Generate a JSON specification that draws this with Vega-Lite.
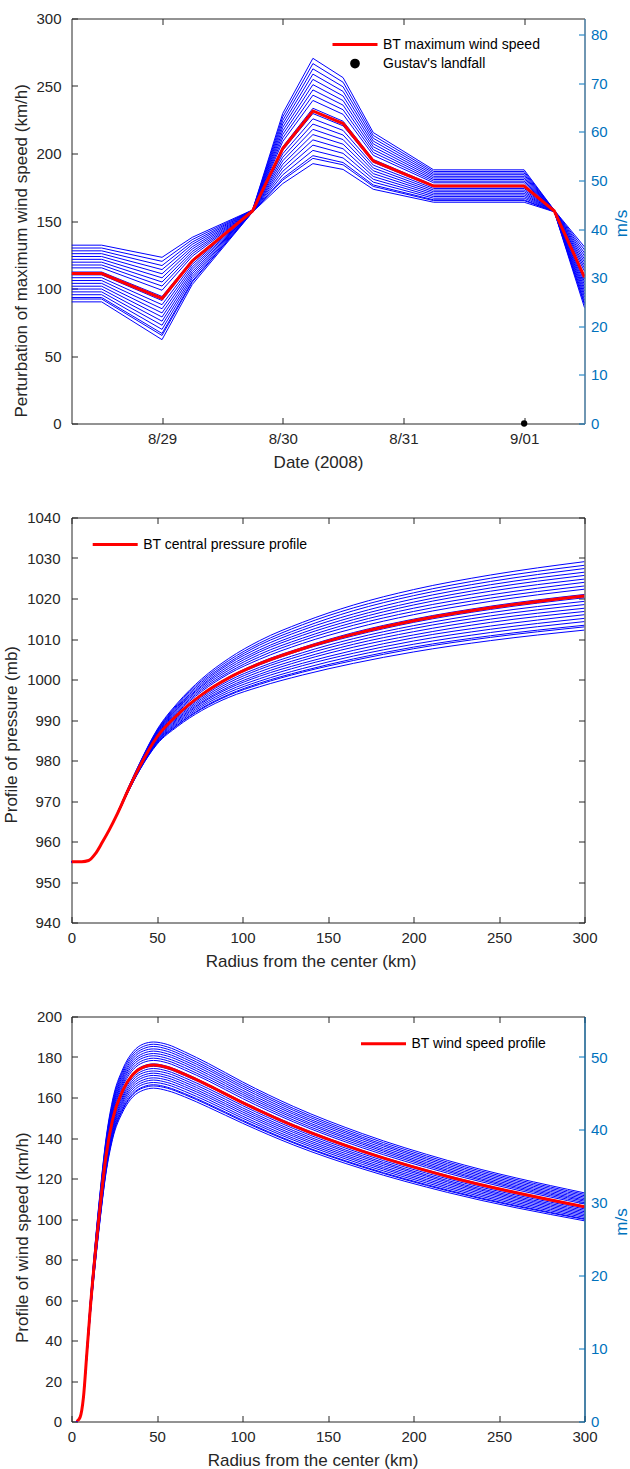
{
"$schema": "https://vega.github.io/schema/vega-lite/v6.json",
"background": "white",
"padding": {"left": 1.5, "top": 10.5, "right": 0, "bottom": 0},
"bounds": "flush",
"spacing": 94,
"resolve": {"scale": {"color": "independent"}, "legend": {"color": "independent"}},
"datasets": {
"ens1": [
{"m":1,"t":"2008-08-28T06:00","v":90.1},{"m":2,"t":"2008-08-28T06:00","v":92.2},{"m":3,"t":"2008-08-28T06:00","v":93.3},{"m":4,"t":"2008-08-28T06:00","v":95.4},{"m":5,"t":"2008-08-28T06:00","v":97.5},{"m":6,"t":"2008-08-28T06:00","v":99.6},{"m":7,"t":"2008-08-28T06:00","v":101.7},{"m":8,"t":"2008-08-28T06:00","v":103.8},{"m":9,"t":"2008-08-28T06:00","v":105.9},{"m":10,"t":"2008-08-28T06:00","v":108.0},{"m":11,"t":"2008-08-28T06:00","v":110.1},{"m":12,"t":"2008-08-28T06:00","v":112.2},{"m":13,"t":"2008-08-28T06:00","v":115.3},{"m":14,"t":"2008-08-28T06:00","v":117.4},{"m":15,"t":"2008-08-28T06:00","v":119.5},{"m":16,"t":"2008-08-28T06:00","v":121.6},{"m":17,"t":"2008-08-28T06:00","v":123.7},{"m":18,"t":"2008-08-28T06:00","v":125.8},{"m":19,"t":"2008-08-28T06:00","v":127.9},{"m":20,"t":"2008-08-28T06:00","v":130.0},{"m":21,"t":"2008-08-28T06:00","v":132.1},
{"m":1,"t":"2008-08-28T12:00","v":90.1},{"m":2,"t":"2008-08-28T12:00","v":92.2},{"m":3,"t":"2008-08-28T12:00","v":93.3},{"m":4,"t":"2008-08-28T12:00","v":95.4},{"m":5,"t":"2008-08-28T12:00","v":97.5},{"m":6,"t":"2008-08-28T12:00","v":99.6},{"m":7,"t":"2008-08-28T12:00","v":101.7},{"m":8,"t":"2008-08-28T12:00","v":103.8},{"m":9,"t":"2008-08-28T12:00","v":105.9},{"m":10,"t":"2008-08-28T12:00","v":108.0},{"m":11,"t":"2008-08-28T12:00","v":110.1},{"m":12,"t":"2008-08-28T12:00","v":112.2},{"m":13,"t":"2008-08-28T12:00","v":115.3},{"m":14,"t":"2008-08-28T12:00","v":117.4},{"m":15,"t":"2008-08-28T12:00","v":119.5},{"m":16,"t":"2008-08-28T12:00","v":121.6},{"m":17,"t":"2008-08-28T12:00","v":123.7},{"m":18,"t":"2008-08-28T12:00","v":125.8},{"m":19,"t":"2008-08-28T12:00","v":127.9},{"m":20,"t":"2008-08-28T12:00","v":130.0},{"m":21,"t":"2008-08-28T12:00","v":132.1},
{"m":1,"t":"2008-08-29T00:00","v":62.1},{"m":2,"t":"2008-08-29T00:00","v":65.2},{"m":3,"t":"2008-08-29T00:00","v":66.7},{"m":4,"t":"2008-08-29T00:00","v":69.7},{"m":5,"t":"2008-08-29T00:00","v":72.8},{"m":6,"t":"2008-08-29T00:00","v":75.8},{"m":7,"t":"2008-08-29T00:00","v":78.9},{"m":8,"t":"2008-08-29T00:00","v":81.9},{"m":9,"t":"2008-08-29T00:00","v":85.0},{"m":10,"t":"2008-08-29T00:00","v":88.0},{"m":11,"t":"2008-08-29T00:00","v":91.1},{"m":12,"t":"2008-08-29T00:00","v":94.1},{"m":13,"t":"2008-08-29T00:00","v":98.7},{"m":14,"t":"2008-08-29T00:00","v":101.8},{"m":15,"t":"2008-08-29T00:00","v":104.8},{"m":16,"t":"2008-08-29T00:00","v":107.9},{"m":17,"t":"2008-08-29T00:00","v":110.9},{"m":18,"t":"2008-08-29T00:00","v":114.0},{"m":19,"t":"2008-08-29T00:00","v":117.0},{"m":20,"t":"2008-08-29T00:00","v":120.1},{"m":21,"t":"2008-08-29T00:00","v":123.1},
{"m":1,"t":"2008-08-29T06:00","v":102.9},{"m":2,"t":"2008-08-29T06:00","v":104.7},{"m":3,"t":"2008-08-29T06:00","v":105.5},{"m":4,"t":"2008-08-29T06:00","v":107.3},{"m":5,"t":"2008-08-29T06:00","v":109.0},{"m":6,"t":"2008-08-29T06:00","v":110.8},{"m":7,"t":"2008-08-29T06:00","v":112.5},{"m":8,"t":"2008-08-29T06:00","v":114.3},{"m":9,"t":"2008-08-29T06:00","v":116.0},{"m":10,"t":"2008-08-29T06:00","v":117.8},{"m":11,"t":"2008-08-29T06:00","v":119.5},{"m":12,"t":"2008-08-29T06:00","v":121.3},{"m":13,"t":"2008-08-29T06:00","v":123.9},{"m":14,"t":"2008-08-29T06:00","v":125.7},{"m":15,"t":"2008-08-29T06:00","v":127.4},{"m":16,"t":"2008-08-29T06:00","v":129.2},{"m":17,"t":"2008-08-29T06:00","v":130.9},{"m":18,"t":"2008-08-29T06:00","v":132.7},{"m":19,"t":"2008-08-29T06:00","v":134.4},{"m":20,"t":"2008-08-29T06:00","v":136.2},{"m":21,"t":"2008-08-29T06:00","v":137.9},
{"m":1,"t":"2008-08-29T18:00","v":156.6},{"m":2,"t":"2008-08-29T18:00","v":156.7},{"m":3,"t":"2008-08-29T18:00","v":156.7},{"m":4,"t":"2008-08-29T18:00","v":156.8},{"m":5,"t":"2008-08-29T18:00","v":156.9},{"m":6,"t":"2008-08-29T18:00","v":157.0},{"m":7,"t":"2008-08-29T18:00","v":157.0},{"m":8,"t":"2008-08-29T18:00","v":157.1},{"m":9,"t":"2008-08-29T18:00","v":157.2},{"m":10,"t":"2008-08-29T18:00","v":157.3},{"m":11,"t":"2008-08-29T18:00","v":157.4},{"m":12,"t":"2008-08-29T18:00","v":157.4},{"m":13,"t":"2008-08-29T18:00","v":157.6},{"m":14,"t":"2008-08-29T18:00","v":157.6},{"m":15,"t":"2008-08-29T18:00","v":157.7},{"m":16,"t":"2008-08-29T18:00","v":157.8},{"m":17,"t":"2008-08-29T18:00","v":157.9},{"m":18,"t":"2008-08-29T18:00","v":158.0},{"m":19,"t":"2008-08-29T18:00","v":158.0},{"m":20,"t":"2008-08-29T18:00","v":158.1},{"m":21,"t":"2008-08-29T18:00","v":158.2},
{"m":1,"t":"2008-08-30T00:00","v":177.7},{"m":2,"t":"2008-08-30T00:00","v":180.3},{"m":3,"t":"2008-08-30T00:00","v":181.6},{"m":4,"t":"2008-08-30T00:00","v":184.2},{"m":5,"t":"2008-08-30T00:00","v":186.8},{"m":6,"t":"2008-08-30T00:00","v":189.4},{"m":7,"t":"2008-08-30T00:00","v":192.0},{"m":8,"t":"2008-08-30T00:00","v":194.6},{"m":9,"t":"2008-08-30T00:00","v":197.2},{"m":10,"t":"2008-08-30T00:00","v":199.8},{"m":11,"t":"2008-08-30T00:00","v":202.4},{"m":12,"t":"2008-08-30T00:00","v":205.0},{"m":13,"t":"2008-08-30T00:00","v":208.9},{"m":14,"t":"2008-08-30T00:00","v":211.5},{"m":15,"t":"2008-08-30T00:00","v":214.1},{"m":16,"t":"2008-08-30T00:00","v":216.7},{"m":17,"t":"2008-08-30T00:00","v":219.3},{"m":18,"t":"2008-08-30T00:00","v":221.9},{"m":19,"t":"2008-08-30T00:00","v":224.5},{"m":20,"t":"2008-08-30T00:00","v":227.1},{"m":21,"t":"2008-08-30T00:00","v":229.7},
{"m":1,"t":"2008-08-30T06:00","v":192.5},{"m":2,"t":"2008-08-30T06:00","v":196.4},{"m":3,"t":"2008-08-30T06:00","v":198.4},{"m":4,"t":"2008-08-30T06:00","v":202.3},{"m":5,"t":"2008-08-30T06:00","v":206.2},{"m":6,"t":"2008-08-30T06:00","v":210.1},{"m":7,"t":"2008-08-30T06:00","v":214.0},{"m":8,"t":"2008-08-30T06:00","v":217.9},{"m":9,"t":"2008-08-30T06:00","v":221.8},{"m":10,"t":"2008-08-30T06:00","v":225.7},{"m":11,"t":"2008-08-30T06:00","v":229.6},{"m":12,"t":"2008-08-30T06:00","v":233.5},{"m":13,"t":"2008-08-30T06:00","v":239.3},{"m":14,"t":"2008-08-30T06:00","v":243.2},{"m":15,"t":"2008-08-30T06:00","v":247.1},{"m":16,"t":"2008-08-30T06:00","v":251.0},{"m":17,"t":"2008-08-30T06:00","v":254.9},{"m":18,"t":"2008-08-30T06:00","v":258.8},{"m":19,"t":"2008-08-30T06:00","v":262.7},{"m":20,"t":"2008-08-30T06:00","v":266.6},{"m":21,"t":"2008-08-30T06:00","v":270.5},
{"m":1,"t":"2008-08-30T12:00","v":188.2},{"m":2,"t":"2008-08-30T12:00","v":191.6},{"m":3,"t":"2008-08-30T12:00","v":193.3},{"m":4,"t":"2008-08-30T12:00","v":196.7},{"m":5,"t":"2008-08-30T12:00","v":200.1},{"m":6,"t":"2008-08-30T12:00","v":203.5},{"m":7,"t":"2008-08-30T12:00","v":206.9},{"m":8,"t":"2008-08-30T12:00","v":210.3},{"m":9,"t":"2008-08-30T12:00","v":213.7},{"m":10,"t":"2008-08-30T12:00","v":217.1},{"m":11,"t":"2008-08-30T12:00","v":220.5},{"m":12,"t":"2008-08-30T12:00","v":223.9},{"m":13,"t":"2008-08-30T12:00","v":229.0},{"m":14,"t":"2008-08-30T12:00","v":232.4},{"m":15,"t":"2008-08-30T12:00","v":235.8},{"m":16,"t":"2008-08-30T12:00","v":239.2},{"m":17,"t":"2008-08-30T12:00","v":242.6},{"m":18,"t":"2008-08-30T12:00","v":246.0},{"m":19,"t":"2008-08-30T12:00","v":249.4},{"m":20,"t":"2008-08-30T12:00","v":252.8},{"m":21,"t":"2008-08-30T12:00","v":256.2},
{"m":1,"t":"2008-08-30T18:00","v":173.5},{"m":2,"t":"2008-08-30T18:00","v":175.6},{"m":3,"t":"2008-08-30T18:00","v":176.7},{"m":4,"t":"2008-08-30T18:00","v":178.8},{"m":5,"t":"2008-08-30T18:00","v":180.9},{"m":6,"t":"2008-08-30T18:00","v":183.0},{"m":7,"t":"2008-08-30T18:00","v":185.1},{"m":8,"t":"2008-08-30T18:00","v":187.2},{"m":9,"t":"2008-08-30T18:00","v":189.3},{"m":10,"t":"2008-08-30T18:00","v":191.4},{"m":11,"t":"2008-08-30T18:00","v":193.5},{"m":12,"t":"2008-08-30T18:00","v":195.6},{"m":13,"t":"2008-08-30T18:00","v":198.7},{"m":14,"t":"2008-08-30T18:00","v":200.8},{"m":15,"t":"2008-08-30T18:00","v":202.9},{"m":16,"t":"2008-08-30T18:00","v":205.0},{"m":17,"t":"2008-08-30T18:00","v":207.1},{"m":18,"t":"2008-08-30T18:00","v":209.2},{"m":19,"t":"2008-08-30T18:00","v":211.3},{"m":20,"t":"2008-08-30T18:00","v":213.4},{"m":21,"t":"2008-08-30T18:00","v":215.5},
{"m":1,"t":"2008-08-31T06:00","v":163.9},{"m":2,"t":"2008-08-31T06:00","v":165.1},{"m":3,"t":"2008-08-31T06:00","v":165.7},{"m":4,"t":"2008-08-31T06:00","v":166.9},{"m":5,"t":"2008-08-31T06:00","v":168.1},{"m":6,"t":"2008-08-31T06:00","v":169.3},{"m":7,"t":"2008-08-31T06:00","v":170.5},{"m":8,"t":"2008-08-31T06:00","v":171.7},{"m":9,"t":"2008-08-31T06:00","v":172.9},{"m":10,"t":"2008-08-31T06:00","v":174.1},{"m":11,"t":"2008-08-31T06:00","v":175.3},{"m":12,"t":"2008-08-31T06:00","v":176.5},{"m":13,"t":"2008-08-31T06:00","v":178.3},{"m":14,"t":"2008-08-31T06:00","v":179.5},{"m":15,"t":"2008-08-31T06:00","v":180.7},{"m":16,"t":"2008-08-31T06:00","v":181.9},{"m":17,"t":"2008-08-31T06:00","v":183.1},{"m":18,"t":"2008-08-31T06:00","v":184.3},{"m":19,"t":"2008-08-31T06:00","v":185.5},{"m":20,"t":"2008-08-31T06:00","v":186.7},{"m":21,"t":"2008-08-31T06:00","v":187.9},
{"m":1,"t":"2008-09-01T00:00","v":163.9},{"m":2,"t":"2008-09-01T00:00","v":165.1},{"m":3,"t":"2008-09-01T00:00","v":165.7},{"m":4,"t":"2008-09-01T00:00","v":166.9},{"m":5,"t":"2008-09-01T00:00","v":168.1},{"m":6,"t":"2008-09-01T00:00","v":169.3},{"m":7,"t":"2008-09-01T00:00","v":170.5},{"m":8,"t":"2008-09-01T00:00","v":171.7},{"m":9,"t":"2008-09-01T00:00","v":172.9},{"m":10,"t":"2008-09-01T00:00","v":174.1},{"m":11,"t":"2008-09-01T00:00","v":175.3},{"m":12,"t":"2008-09-01T00:00","v":176.5},{"m":13,"t":"2008-09-01T00:00","v":178.3},{"m":14,"t":"2008-09-01T00:00","v":179.5},{"m":15,"t":"2008-09-01T00:00","v":180.7},{"m":16,"t":"2008-09-01T00:00","v":181.9},{"m":17,"t":"2008-09-01T00:00","v":183.1},{"m":18,"t":"2008-09-01T00:00","v":184.3},{"m":19,"t":"2008-09-01T00:00","v":185.5},{"m":20,"t":"2008-09-01T00:00","v":186.7},{"m":21,"t":"2008-09-01T00:00","v":187.9},
{"m":1,"t":"2008-09-01T06:00","v":156.8},{"m":2,"t":"2008-09-01T06:00","v":156.9},{"m":3,"t":"2008-09-01T06:00","v":156.9},{"m":4,"t":"2008-09-01T06:00","v":157.0},{"m":5,"t":"2008-09-01T06:00","v":157.0},{"m":6,"t":"2008-09-01T06:00","v":157.1},{"m":7,"t":"2008-09-01T06:00","v":157.1},{"m":8,"t":"2008-09-01T06:00","v":157.2},{"m":9,"t":"2008-09-01T06:00","v":157.3},{"m":10,"t":"2008-09-01T06:00","v":157.3},{"m":11,"t":"2008-09-01T06:00","v":157.4},{"m":12,"t":"2008-09-01T06:00","v":157.4},{"m":13,"t":"2008-09-01T06:00","v":157.5},{"m":14,"t":"2008-09-01T06:00","v":157.6},{"m":15,"t":"2008-09-01T06:00","v":157.6},{"m":16,"t":"2008-09-01T06:00","v":157.7},{"m":17,"t":"2008-09-01T06:00","v":157.8},{"m":18,"t":"2008-09-01T06:00","v":157.8},{"m":19,"t":"2008-09-01T06:00","v":157.9},{"m":20,"t":"2008-09-01T06:00","v":157.9},{"m":21,"t":"2008-09-01T06:00","v":158.0},
{"m":1,"t":"2008-09-01T12:00","v":85.8},{"m":2,"t":"2008-09-01T12:00","v":88.1},{"m":3,"t":"2008-09-01T12:00","v":89.2},{"m":4,"t":"2008-09-01T12:00","v":91.4},{"m":5,"t":"2008-09-01T12:00","v":93.7},{"m":6,"t":"2008-09-01T12:00","v":95.9},{"m":7,"t":"2008-09-01T12:00","v":98.2},{"m":8,"t":"2008-09-01T12:00","v":100.4},{"m":9,"t":"2008-09-01T12:00","v":102.7},{"m":10,"t":"2008-09-01T12:00","v":104.9},{"m":11,"t":"2008-09-01T12:00","v":107.2},{"m":12,"t":"2008-09-01T12:00","v":109.4},{"m":13,"t":"2008-09-01T12:00","v":112.8},{"m":14,"t":"2008-09-01T12:00","v":115.1},{"m":15,"t":"2008-09-01T12:00","v":117.3},{"m":16,"t":"2008-09-01T12:00","v":119.6},{"m":17,"t":"2008-09-01T12:00","v":121.8},{"m":18,"t":"2008-09-01T12:00","v":124.1},{"m":19,"t":"2008-09-01T12:00","v":126.3},{"m":20,"t":"2008-09-01T12:00","v":128.6},{"m":21,"t":"2008-09-01T12:00","v":130.8}
],
"bt1": [
{"t":"2008-08-28T06:00","v":111.1,"s":"BT maximum wind speed"},{"t":"2008-08-28T12:00","v":111.1,"s":"BT maximum wind speed"},{"t":"2008-08-29T00:00","v":92.6,"s":"BT maximum wind speed"},{"t":"2008-08-29T06:00","v":120.4,"s":"BT maximum wind speed"},{"t":"2008-08-29T18:00","v":157.4,"s":"BT maximum wind speed"},{"t":"2008-08-30T00:00","v":203.7,"s":"BT maximum wind speed"},{"t":"2008-08-30T06:00","v":231.5,"s":"BT maximum wind speed"},{"t":"2008-08-30T12:00","v":222.2,"s":"BT maximum wind speed"},{"t":"2008-08-30T18:00","v":194.5,"s":"BT maximum wind speed"},{"t":"2008-08-31T06:00","v":175.9,"s":"BT maximum wind speed"},{"t":"2008-09-01T00:00","v":175.9,"s":"BT maximum wind speed"},{"t":"2008-09-01T06:00","v":157.4,"s":"BT maximum wind speed"},{"t":"2008-09-01T12:00","v":108.3,"s":"BT maximum wind speed"}
],
"lf": [
{"t":"2008-09-01T00:00","v":0,"s":"Gustav's landfall"}
],
"ens2": [
{"m":1,"r":0,"p":955},{"m":2,"r":0,"p":955},{"m":3,"r":0,"p":955},{"m":4,"r":0,"p":955},{"m":5,"r":0,"p":955},{"m":6,"r":0,"p":955},{"m":7,"r":0,"p":955},{"m":8,"r":0,"p":955},{"m":9,"r":0,"p":955},{"m":10,"r":0,"p":955},{"m":11,"r":0,"p":955},{"m":12,"r":0,"p":955},{"m":13,"r":0,"p":955},{"m":14,"r":0,"p":955},{"m":15,"r":0,"p":955},{"m":16,"r":0,"p":955},{"m":17,"r":0,"p":955},{"m":18,"r":0,"p":955},{"m":19,"r":0,"p":955},{"m":20,"r":0,"p":955},{"m":21,"r":0,"p":955},
{"m":1,"r":6,"p":955},{"m":2,"r":6,"p":955},{"m":3,"r":6,"p":955},{"m":4,"r":6,"p":955},{"m":5,"r":6,"p":955},{"m":6,"r":6,"p":955},{"m":7,"r":6,"p":955},{"m":8,"r":6,"p":955},{"m":9,"r":6,"p":955},{"m":10,"r":6,"p":955},{"m":11,"r":6,"p":955},{"m":12,"r":6,"p":955},{"m":13,"r":6,"p":955},{"m":14,"r":6,"p":955},{"m":15,"r":6,"p":955},{"m":16,"r":6,"p":955},{"m":17,"r":6,"p":955},{"m":18,"r":6,"p":955},{"m":19,"r":6,"p":955},{"m":20,"r":6,"p":955},{"m":21,"r":6,"p":955},
{"m":1,"r":10,"p":955.3},{"m":2,"r":10,"p":955.3},{"m":3,"r":10,"p":955.3},{"m":4,"r":10,"p":955.3},{"m":5,"r":10,"p":955.3},{"m":6,"r":10,"p":955.3},{"m":7,"r":10,"p":955.3},{"m":8,"r":10,"p":955.3},{"m":9,"r":10,"p":955.3},{"m":10,"r":10,"p":955.3},{"m":11,"r":10,"p":955.3},{"m":12,"r":10,"p":955.3},{"m":13,"r":10,"p":955.3},{"m":14,"r":10,"p":955.3},{"m":15,"r":10,"p":955.3},{"m":16,"r":10,"p":955.3},{"m":17,"r":10,"p":955.3},{"m":18,"r":10,"p":955.3},{"m":19,"r":10,"p":955.3},{"m":20,"r":10,"p":955.3},{"m":21,"r":10,"p":955.3},
{"m":1,"r":14,"p":957.0},{"m":2,"r":14,"p":957.0},{"m":3,"r":14,"p":957.0},{"m":4,"r":14,"p":957.0},{"m":5,"r":14,"p":957.0},{"m":6,"r":14,"p":957.0},{"m":7,"r":14,"p":957.0},{"m":8,"r":14,"p":957.0},{"m":9,"r":14,"p":957.0},{"m":10,"r":14,"p":957.0},{"m":11,"r":14,"p":957.0},{"m":12,"r":14,"p":957.0},{"m":13,"r":14,"p":957.0},{"m":14,"r":14,"p":957.0},{"m":15,"r":14,"p":957.0},{"m":16,"r":14,"p":957.0},{"m":17,"r":14,"p":957.0},{"m":18,"r":14,"p":957.0},{"m":19,"r":14,"p":957.0},{"m":20,"r":14,"p":957.0},{"m":21,"r":14,"p":957.0},
{"m":1,"r":18,"p":959.8},{"m":2,"r":18,"p":959.8},{"m":3,"r":18,"p":959.8},{"m":4,"r":18,"p":959.8},{"m":5,"r":18,"p":959.8},{"m":6,"r":18,"p":959.8},{"m":7,"r":18,"p":959.8},{"m":8,"r":18,"p":959.8},{"m":9,"r":18,"p":959.8},{"m":10,"r":18,"p":959.8},{"m":11,"r":18,"p":959.8},{"m":12,"r":18,"p":959.8},{"m":13,"r":18,"p":959.8},{"m":14,"r":18,"p":959.8},{"m":15,"r":18,"p":959.8},{"m":16,"r":18,"p":959.8},{"m":17,"r":18,"p":959.8},{"m":18,"r":18,"p":959.8},{"m":19,"r":18,"p":959.8},{"m":20,"r":18,"p":959.8},{"m":21,"r":18,"p":959.8},
{"m":1,"r":22,"p":962.7},{"m":2,"r":22,"p":962.7},{"m":3,"r":22,"p":962.7},{"m":4,"r":22,"p":962.7},{"m":5,"r":22,"p":962.7},{"m":6,"r":22,"p":962.7},{"m":7,"r":22,"p":962.8},{"m":8,"r":22,"p":962.8},{"m":9,"r":22,"p":962.8},{"m":10,"r":22,"p":962.8},{"m":11,"r":22,"p":962.8},{"m":12,"r":22,"p":962.8},{"m":13,"r":22,"p":962.8},{"m":14,"r":22,"p":962.8},{"m":15,"r":22,"p":962.9},{"m":16,"r":22,"p":962.9},{"m":17,"r":22,"p":962.9},{"m":18,"r":22,"p":962.9},{"m":19,"r":22,"p":962.9},{"m":20,"r":22,"p":962.9},{"m":21,"r":22,"p":962.9},
{"m":1,"r":27,"p":966.7},{"m":2,"r":27,"p":966.8},{"m":3,"r":27,"p":966.8},{"m":4,"r":27,"p":966.8},{"m":5,"r":27,"p":966.8},{"m":6,"r":27,"p":966.9},{"m":7,"r":27,"p":966.9},{"m":8,"r":27,"p":966.9},{"m":9,"r":27,"p":966.9},{"m":10,"r":27,"p":967.0},{"m":11,"r":27,"p":967.0},{"m":12,"r":27,"p":967.0},{"m":13,"r":27,"p":967.1},{"m":14,"r":27,"p":967.1},{"m":15,"r":27,"p":967.1},{"m":16,"r":27,"p":967.1},{"m":17,"r":27,"p":967.2},{"m":18,"r":27,"p":967.2},{"m":19,"r":27,"p":967.2},{"m":20,"r":27,"p":967.2},{"m":21,"r":27,"p":967.3},
{"m":1,"r":33,"p":972.1},{"m":2,"r":33,"p":972.2},{"m":3,"r":33,"p":972.2},{"m":4,"r":33,"p":972.2},{"m":5,"r":33,"p":972.3},{"m":6,"r":33,"p":972.3},{"m":7,"r":33,"p":972.4},{"m":8,"r":33,"p":972.4},{"m":9,"r":33,"p":972.5},{"m":10,"r":33,"p":972.5},{"m":11,"r":33,"p":972.6},{"m":12,"r":33,"p":972.6},{"m":13,"r":33,"p":972.7},{"m":14,"r":33,"p":972.8},{"m":15,"r":33,"p":972.8},{"m":16,"r":33,"p":972.9},{"m":17,"r":33,"p":972.9},{"m":18,"r":33,"p":973.0},{"m":19,"r":33,"p":973.0},{"m":20,"r":33,"p":973.1},{"m":21,"r":33,"p":973.1},
{"m":1,"r":40,"p":977.7},{"m":2,"r":40,"p":977.8},{"m":3,"r":40,"p":977.8},{"m":4,"r":40,"p":977.9},{"m":5,"r":40,"p":978.0},{"m":6,"r":40,"p":978.1},{"m":7,"r":40,"p":978.2},{"m":8,"r":40,"p":978.3},{"m":9,"r":40,"p":978.4},{"m":10,"r":40,"p":978.5},{"m":11,"r":40,"p":978.6},{"m":12,"r":40,"p":978.6},{"m":13,"r":40,"p":978.8},{"m":14,"r":40,"p":978.9},{"m":15,"r":40,"p":979.0},{"m":16,"r":40,"p":979.1},{"m":17,"r":40,"p":979.1},{"m":18,"r":40,"p":979.2},{"m":19,"r":40,"p":979.3},{"m":20,"r":40,"p":979.4},{"m":21,"r":40,"p":979.5},
{"m":1,"r":50,"p":984.0},{"m":2,"r":50,"p":984.2},{"m":3,"r":50,"p":984.3},{"m":4,"r":50,"p":984.5},{"m":5,"r":50,"p":984.6},{"m":6,"r":50,"p":984.8},{"m":7,"r":50,"p":985.0},{"m":8,"r":50,"p":985.2},{"m":9,"r":50,"p":985.4},{"m":10,"r":50,"p":985.5},{"m":11,"r":50,"p":985.7},{"m":12,"r":50,"p":985.9},{"m":13,"r":50,"p":986.2},{"m":14,"r":50,"p":986.3},{"m":15,"r":50,"p":986.5},{"m":16,"r":50,"p":986.7},{"m":17,"r":50,"p":986.9},{"m":18,"r":50,"p":987.1},{"m":19,"r":50,"p":987.2},{"m":20,"r":50,"p":987.4},{"m":21,"r":50,"p":987.6},
{"m":1,"r":62,"p":988.4},{"m":2,"r":62,"p":988.7},{"m":3,"r":62,"p":988.8},{"m":4,"r":62,"p":989.1},{"m":5,"r":62,"p":989.4},{"m":6,"r":62,"p":989.7},{"m":7,"r":62,"p":990.0},{"m":8,"r":62,"p":990.3},{"m":9,"r":62,"p":990.6},{"m":10,"r":62,"p":990.9},{"m":11,"r":62,"p":991.2},{"m":12,"r":62,"p":991.4},{"m":13,"r":62,"p":991.9},{"m":14,"r":62,"p":992.2},{"m":15,"r":62,"p":992.5},{"m":16,"r":62,"p":992.8},{"m":17,"r":62,"p":993.0},{"m":18,"r":62,"p":993.3},{"m":19,"r":62,"p":993.6},{"m":20,"r":62,"p":993.9},{"m":21,"r":62,"p":994.2},
{"m":1,"r":76,"p":992.3},{"m":2,"r":76,"p":992.7},{"m":3,"r":76,"p":992.9},{"m":4,"r":76,"p":993.3},{"m":5,"r":76,"p":993.7},{"m":6,"r":76,"p":994.1},{"m":7,"r":76,"p":994.4},{"m":8,"r":76,"p":994.8},{"m":9,"r":76,"p":995.2},{"m":10,"r":76,"p":995.6},{"m":11,"r":76,"p":996.0},{"m":12,"r":76,"p":996.4},{"m":13,"r":76,"p":997.0},{"m":14,"r":76,"p":997.4},{"m":15,"r":76,"p":997.8},{"m":16,"r":76,"p":998.2},{"m":17,"r":76,"p":998.5},{"m":18,"r":76,"p":998.9},{"m":19,"r":76,"p":999.3},{"m":20,"r":76,"p":999.7},{"m":21,"r":76,"p":1000.1},
{"m":1,"r":92,"p":995.6},{"m":2,"r":92,"p":996.1},{"m":3,"r":92,"p":996.3},{"m":4,"r":92,"p":996.8},{"m":5,"r":92,"p":997.3},{"m":6,"r":92,"p":997.8},{"m":7,"r":92,"p":998.2},{"m":8,"r":92,"p":998.7},{"m":9,"r":92,"p":999.2},{"m":10,"r":92,"p":999.7},{"m":11,"r":92,"p":1000.2},{"m":12,"r":92,"p":1000.6},{"m":13,"r":92,"p":1001.4},{"m":14,"r":92,"p":1001.8},{"m":15,"r":92,"p":1002.3},{"m":16,"r":92,"p":1002.8},{"m":17,"r":92,"p":1003.3},{"m":18,"r":92,"p":1003.8},{"m":19,"r":92,"p":1004.2},{"m":20,"r":92,"p":1004.7},{"m":21,"r":92,"p":1005.2},
{"m":1,"r":110,"p":998.2},{"m":2,"r":110,"p":998.8},{"m":3,"r":110,"p":999.1},{"m":4,"r":110,"p":999.6},{"m":5,"r":110,"p":1000.2},{"m":6,"r":110,"p":1000.8},{"m":7,"r":110,"p":1001.3},{"m":8,"r":110,"p":1001.9},{"m":9,"r":110,"p":1002.5},{"m":10,"r":110,"p":1003.0},{"m":11,"r":110,"p":1003.6},{"m":12,"r":110,"p":1004.2},{"m":13,"r":110,"p":1005.0},{"m":14,"r":110,"p":1005.6},{"m":15,"r":110,"p":1006.2},{"m":16,"r":110,"p":1006.8},{"m":17,"r":110,"p":1007.3},{"m":18,"r":110,"p":1007.9},{"m":19,"r":110,"p":1008.5},{"m":20,"r":110,"p":1009.0},{"m":21,"r":110,"p":1009.6},
{"m":1,"r":135,"p":1001.1},{"m":2,"r":135,"p":1001.8},{"m":3,"r":135,"p":1002.1},{"m":4,"r":135,"p":1002.7},{"m":5,"r":135,"p":1003.4},{"m":6,"r":135,"p":1004.0},{"m":7,"r":135,"p":1004.7},{"m":8,"r":135,"p":1005.3},{"m":9,"r":135,"p":1006.0},{"m":10,"r":135,"p":1006.6},{"m":11,"r":135,"p":1007.3},{"m":12,"r":135,"p":1007.9},{"m":13,"r":135,"p":1008.9},{"m":14,"r":135,"p":1009.6},{"m":15,"r":135,"p":1010.2},{"m":16,"r":135,"p":1010.9},{"m":17,"r":135,"p":1011.5},{"m":18,"r":135,"p":1012.2},{"m":19,"r":135,"p":1012.8},{"m":20,"r":135,"p":1013.5},{"m":21,"r":135,"p":1014.1},
{"m":1,"r":165,"p":1004.0},{"m":2,"r":165,"p":1004.7},{"m":3,"r":165,"p":1005.1},{"m":4,"r":165,"p":1005.8},{"m":5,"r":165,"p":1006.5},{"m":6,"r":165,"p":1007.2},{"m":7,"r":165,"p":1008.0},{"m":8,"r":165,"p":1008.7},{"m":9,"r":165,"p":1009.4},{"m":10,"r":165,"p":1010.1},{"m":11,"r":165,"p":1010.8},{"m":12,"r":165,"p":1011.6},{"m":13,"r":165,"p":1012.6},{"m":14,"r":165,"p":1013.4},{"m":15,"r":165,"p":1014.1},{"m":16,"r":165,"p":1014.8},{"m":17,"r":165,"p":1015.5},{"m":18,"r":165,"p":1016.2},{"m":19,"r":165,"p":1017.0},{"m":20,"r":165,"p":1017.7},{"m":21,"r":165,"p":1018.4},
{"m":1,"r":200,"p":1006.8},{"m":2,"r":200,"p":1007.6},{"m":3,"r":200,"p":1008.0},{"m":4,"r":200,"p":1008.7},{"m":5,"r":200,"p":1009.5},{"m":6,"r":200,"p":1010.3},{"m":7,"r":200,"p":1011.0},{"m":8,"r":200,"p":1011.8},{"m":9,"r":200,"p":1012.6},{"m":10,"r":200,"p":1013.3},{"m":11,"r":200,"p":1014.1},{"m":12,"r":200,"p":1014.9},{"m":13,"r":200,"p":1016.0},{"m":14,"r":200,"p":1016.8},{"m":15,"r":200,"p":1017.6},{"m":16,"r":200,"p":1018.4},{"m":17,"r":200,"p":1019.1},{"m":18,"r":200,"p":1019.9},{"m":19,"r":200,"p":1020.7},{"m":20,"r":200,"p":1021.4},{"m":21,"r":200,"p":1022.2},
{"m":1,"r":245,"p":1009.6},{"m":2,"r":245,"p":1010.4},{"m":3,"r":245,"p":1010.8},{"m":4,"r":245,"p":1011.6},{"m":5,"r":245,"p":1012.4},{"m":6,"r":245,"p":1013.2},{"m":7,"r":245,"p":1014.1},{"m":8,"r":245,"p":1014.9},{"m":9,"r":245,"p":1015.7},{"m":10,"r":245,"p":1016.5},{"m":11,"r":245,"p":1017.3},{"m":12,"r":245,"p":1018.1},{"m":13,"r":245,"p":1019.3},{"m":14,"r":245,"p":1020.1},{"m":15,"r":245,"p":1020.9},{"m":16,"r":245,"p":1021.8},{"m":17,"r":245,"p":1022.6},{"m":18,"r":245,"p":1023.4},{"m":19,"r":245,"p":1024.2},{"m":20,"r":245,"p":1025.0},{"m":21,"r":245,"p":1025.8},
{"m":1,"r":300,"p":1012.2},{"m":2,"r":300,"p":1013.0},{"m":3,"r":300,"p":1013.4},{"m":4,"r":300,"p":1014.3},{"m":5,"r":300,"p":1015.1},{"m":6,"r":300,"p":1016.0},{"m":7,"r":300,"p":1016.8},{"m":8,"r":300,"p":1017.6},{"m":9,"r":300,"p":1018.5},{"m":10,"r":300,"p":1019.3},{"m":11,"r":300,"p":1020.2},{"m":12,"r":300,"p":1021.0},{"m":13,"r":300,"p":1022.3},{"m":14,"r":300,"p":1023.1},{"m":15,"r":300,"p":1024.0},{"m":16,"r":300,"p":1024.8},{"m":17,"r":300,"p":1025.7},{"m":18,"r":300,"p":1026.5},{"m":19,"r":300,"p":1027.4},{"m":20,"r":300,"p":1028.2},{"m":21,"r":300,"p":1029.1}
],
"bt2": [
{"r":0,"p":955,"s":"BT central pressure profile"},{"r":6,"p":955,"s":"BT central pressure profile"},{"r":10,"p":955.3,"s":"BT central pressure profile"},{"r":14,"p":957,"s":"BT central pressure profile"},{"r":18,"p":959.8,"s":"BT central pressure profile"},{"r":22,"p":962.8,"s":"BT central pressure profile"},{"r":27,"p":967,"s":"BT central pressure profile"},{"r":33,"p":972.6,"s":"BT central pressure profile"},{"r":40,"p":978.6,"s":"BT central pressure profile"},{"r":50,"p":985.8,"s":"BT central pressure profile"},{"r":62,"p":991.3,"s":"BT central pressure profile"},{"r":76,"p":996.2,"s":"BT central pressure profile"},{"r":92,"p":1000.4,"s":"BT central pressure profile"},{"r":110,"p":1003.9,"s":"BT central pressure profile"},{"r":135,"p":1007.6,"s":"BT central pressure profile"},{"r":165,"p":1011.2,"s":"BT central pressure profile"},{"r":200,"p":1014.5,"s":"BT central pressure profile"},{"r":245,"p":1017.7,"s":"BT central pressure profile"},{"r":300,"p":1020.6,"s":"BT central pressure profile"}
],
"ens3": [
{"m":1,"r":3,"w":0},{"m":2,"r":3,"w":0},{"m":3,"r":3,"w":0},{"m":4,"r":3,"w":0},{"m":5,"r":3,"w":0},{"m":6,"r":3,"w":0},{"m":7,"r":3,"w":0},{"m":8,"r":3,"w":0},{"m":9,"r":3,"w":0},{"m":10,"r":3,"w":0},{"m":11,"r":3,"w":0},{"m":12,"r":3,"w":0},{"m":13,"r":3,"w":0},{"m":14,"r":3,"w":0},{"m":15,"r":3,"w":0},{"m":16,"r":3,"w":0},{"m":17,"r":3,"w":0},{"m":18,"r":3,"w":0},{"m":19,"r":3,"w":0},{"m":20,"r":3,"w":0},{"m":21,"r":3,"w":0},
{"m":1,"r":5,"w":2},{"m":2,"r":5,"w":2},{"m":3,"r":5,"w":2},{"m":4,"r":5,"w":2},{"m":5,"r":5,"w":2},{"m":6,"r":5,"w":2},{"m":7,"r":5,"w":2},{"m":8,"r":5,"w":2},{"m":9,"r":5,"w":2},{"m":10,"r":5,"w":2},{"m":11,"r":5,"w":2},{"m":12,"r":5,"w":2},{"m":13,"r":5,"w":2},{"m":14,"r":5,"w":2},{"m":15,"r":5,"w":2},{"m":16,"r":5,"w":2},{"m":17,"r":5,"w":2},{"m":18,"r":5,"w":2},{"m":19,"r":5,"w":2},{"m":20,"r":5,"w":2},{"m":21,"r":5,"w":2},
{"m":1,"r":7,"w":11.2},{"m":2,"r":7,"w":11.3},{"m":3,"r":7,"w":11.3},{"m":4,"r":7,"w":11.4},{"m":5,"r":7,"w":11.5},{"m":6,"r":7,"w":11.6},{"m":7,"r":7,"w":11.6},{"m":8,"r":7,"w":11.7},{"m":9,"r":7,"w":11.8},{"m":10,"r":7,"w":11.9},{"m":11,"r":7,"w":12.0},{"m":12,"r":7,"w":12.0},{"m":13,"r":7,"w":12.2},{"m":14,"r":7,"w":12.2},{"m":15,"r":7,"w":12.3},{"m":16,"r":7,"w":12.4},{"m":17,"r":7,"w":12.5},{"m":18,"r":7,"w":12.5},{"m":19,"r":7,"w":12.6},{"m":20,"r":7,"w":12.7},{"m":21,"r":7,"w":12.8},
{"m":1,"r":9,"w":31.8},{"m":2,"r":9,"w":32.0},{"m":3,"r":9,"w":32.1},{"m":4,"r":9,"w":32.3},{"m":5,"r":9,"w":32.6},{"m":6,"r":9,"w":32.8},{"m":7,"r":9,"w":33.0},{"m":8,"r":9,"w":33.2},{"m":9,"r":9,"w":33.4},{"m":10,"r":9,"w":33.7},{"m":11,"r":9,"w":33.9},{"m":12,"r":9,"w":34.1},{"m":13,"r":9,"w":34.4},{"m":14,"r":9,"w":34.7},{"m":15,"r":9,"w":34.9},{"m":16,"r":9,"w":35.1},{"m":17,"r":9,"w":35.3},{"m":18,"r":9,"w":35.5},{"m":19,"r":9,"w":35.8},{"m":20,"r":9,"w":36.0},{"m":21,"r":9,"w":36.2},
{"m":1,"r":11,"w":52.4},{"m":2,"r":11,"w":52.7},{"m":3,"r":11,"w":52.9},{"m":4,"r":11,"w":53.3},{"m":5,"r":11,"w":53.6},{"m":6,"r":11,"w":54.0},{"m":7,"r":11,"w":54.4},{"m":8,"r":11,"w":54.7},{"m":9,"r":11,"w":55.1},{"m":10,"r":11,"w":55.5},{"m":11,"r":11,"w":55.8},{"m":12,"r":11,"w":56.2},{"m":13,"r":11,"w":56.7},{"m":14,"r":11,"w":57.1},{"m":15,"r":11,"w":57.5},{"m":16,"r":11,"w":57.8},{"m":17,"r":11,"w":58.2},{"m":18,"r":11,"w":58.5},{"m":19,"r":11,"w":58.9},{"m":20,"r":11,"w":59.3},{"m":21,"r":11,"w":59.6},
{"m":1,"r":14,"w":78.5},{"m":2,"r":14,"w":79.1},{"m":3,"r":14,"w":79.4},{"m":4,"r":14,"w":79.9},{"m":5,"r":14,"w":80.5},{"m":6,"r":14,"w":81.0},{"m":7,"r":14,"w":81.5},{"m":8,"r":14,"w":82.1},{"m":9,"r":14,"w":82.6},{"m":10,"r":14,"w":83.2},{"m":11,"r":14,"w":83.7},{"m":12,"r":14,"w":84.3},{"m":13,"r":14,"w":85.1},{"m":14,"r":14,"w":85.6},{"m":15,"r":14,"w":86.2},{"m":16,"r":14,"w":86.7},{"m":17,"r":14,"w":87.3},{"m":18,"r":14,"w":87.8},{"m":19,"r":14,"w":88.4},{"m":20,"r":14,"w":88.9},{"m":21,"r":14,"w":89.5},
{"m":1,"r":17,"w":101.5},{"m":2,"r":17,"w":102.2},{"m":3,"r":17,"w":102.5},{"m":4,"r":17,"w":103.2},{"m":5,"r":17,"w":103.9},{"m":6,"r":17,"w":104.6},{"m":7,"r":17,"w":105.3},{"m":8,"r":17,"w":106.0},{"m":9,"r":17,"w":106.7},{"m":10,"r":17,"w":107.4},{"m":11,"r":17,"w":108.2},{"m":12,"r":17,"w":108.9},{"m":13,"r":17,"w":109.9},{"m":14,"r":17,"w":110.6},{"m":15,"r":17,"w":111.3},{"m":16,"r":17,"w":112.0},{"m":17,"r":17,"w":112.7},{"m":18,"r":17,"w":113.4},{"m":19,"r":17,"w":114.1},{"m":20,"r":17,"w":114.9},{"m":21,"r":17,"w":115.6},
{"m":1,"r":20,"w":121.6},{"m":2,"r":20,"w":122.4},{"m":3,"r":20,"w":122.8},{"m":4,"r":20,"w":123.7},{"m":5,"r":20,"w":124.5},{"m":6,"r":20,"w":125.4},{"m":7,"r":20,"w":126.2},{"m":8,"r":20,"w":127.0},{"m":9,"r":20,"w":127.9},{"m":10,"r":20,"w":128.7},{"m":11,"r":20,"w":129.6},{"m":12,"r":20,"w":130.4},{"m":13,"r":20,"w":131.7},{"m":14,"r":20,"w":132.5},{"m":15,"r":20,"w":133.4},{"m":16,"r":20,"w":134.2},{"m":17,"r":20,"w":135.1},{"m":18,"r":20,"w":135.9},{"m":19,"r":20,"w":136.8},{"m":20,"r":20,"w":137.6},{"m":21,"r":20,"w":138.5},
{"m":1,"r":24,"w":139.3},{"m":2,"r":24,"w":140.3},{"m":3,"r":24,"w":140.8},{"m":4,"r":24,"w":141.7},{"m":5,"r":24,"w":142.7},{"m":6,"r":24,"w":143.7},{"m":7,"r":24,"w":144.6},{"m":8,"r":24,"w":145.6},{"m":9,"r":24,"w":146.6},{"m":10,"r":24,"w":147.5},{"m":11,"r":24,"w":148.5},{"m":12,"r":24,"w":149.5},{"m":13,"r":24,"w":150.9},{"m":14,"r":24,"w":151.9},{"m":15,"r":24,"w":152.9},{"m":16,"r":24,"w":153.8},{"m":17,"r":24,"w":154.8},{"m":18,"r":24,"w":155.8},{"m":19,"r":24,"w":156.7},{"m":20,"r":24,"w":157.7},{"m":21,"r":24,"w":158.7},
{"m":1,"r":30,"w":152.9},{"m":2,"r":30,"w":153.9},{"m":3,"r":30,"w":154.5},{"m":4,"r":30,"w":155.5},{"m":5,"r":30,"w":156.6},{"m":6,"r":30,"w":157.7},{"m":7,"r":30,"w":158.7},{"m":8,"r":30,"w":159.8},{"m":9,"r":30,"w":160.8},{"m":10,"r":30,"w":161.9},{"m":11,"r":30,"w":163.0},{"m":12,"r":30,"w":164.0},{"m":13,"r":30,"w":165.6},{"m":14,"r":30,"w":166.7},{"m":15,"r":30,"w":167.8},{"m":16,"r":30,"w":168.8},{"m":17,"r":30,"w":169.9},{"m":18,"r":30,"w":170.9},{"m":19,"r":30,"w":172.0},{"m":20,"r":30,"w":173.1},{"m":21,"r":30,"w":174.1},
{"m":1,"r":36,"w":160.4},{"m":2,"r":36,"w":161.5},{"m":3,"r":36,"w":162.0},{"m":4,"r":36,"w":163.1},{"m":5,"r":36,"w":164.3},{"m":6,"r":36,"w":165.4},{"m":7,"r":36,"w":166.5},{"m":8,"r":36,"w":167.6},{"m":9,"r":36,"w":168.7},{"m":10,"r":36,"w":169.8},{"m":11,"r":36,"w":170.9},{"m":12,"r":36,"w":172.1},{"m":13,"r":36,"w":173.7},{"m":14,"r":36,"w":174.8},{"m":15,"r":36,"w":176.0},{"m":16,"r":36,"w":177.1},{"m":17,"r":36,"w":178.2},{"m":18,"r":36,"w":179.3},{"m":19,"r":36,"w":180.4},{"m":20,"r":36,"w":181.5},{"m":21,"r":36,"w":182.6},
{"m":1,"r":42,"w":163.6},{"m":2,"r":42,"w":164.8},{"m":3,"r":42,"w":165.3},{"m":4,"r":42,"w":166.5},{"m":5,"r":42,"w":167.6},{"m":6,"r":42,"w":168.7},{"m":7,"r":42,"w":169.9},{"m":8,"r":42,"w":171.0},{"m":9,"r":42,"w":172.2},{"m":10,"r":42,"w":173.3},{"m":11,"r":42,"w":174.4},{"m":12,"r":42,"w":175.6},{"m":13,"r":42,"w":177.3},{"m":14,"r":42,"w":178.4},{"m":15,"r":42,"w":179.6},{"m":16,"r":42,"w":180.7},{"m":17,"r":42,"w":181.8},{"m":18,"r":42,"w":183.0},{"m":19,"r":42,"w":184.1},{"m":20,"r":42,"w":185.2},{"m":21,"r":42,"w":186.4},
{"m":1,"r":48,"w":164.6},{"m":2,"r":48,"w":165.7},{"m":3,"r":48,"w":166.3},{"m":4,"r":48,"w":167.4},{"m":5,"r":48,"w":168.6},{"m":6,"r":48,"w":169.7},{"m":7,"r":48,"w":170.9},{"m":8,"r":48,"w":172.0},{"m":9,"r":48,"w":173.1},{"m":10,"r":48,"w":174.3},{"m":11,"r":48,"w":175.4},{"m":12,"r":48,"w":176.6},{"m":13,"r":48,"w":178.3},{"m":14,"r":48,"w":179.4},{"m":15,"r":48,"w":180.6},{"m":16,"r":48,"w":181.7},{"m":17,"r":48,"w":182.9},{"m":18,"r":48,"w":184.0},{"m":19,"r":48,"w":185.2},{"m":20,"r":48,"w":186.3},{"m":21,"r":48,"w":187.4},
{"m":1,"r":56,"w":163.4},{"m":2,"r":56,"w":164.6},{"m":3,"r":56,"w":165.1},{"m":4,"r":56,"w":166.3},{"m":5,"r":56,"w":167.4},{"m":6,"r":56,"w":168.6},{"m":7,"r":56,"w":169.7},{"m":8,"r":56,"w":170.8},{"m":9,"r":56,"w":172.0},{"m":10,"r":56,"w":173.1},{"m":11,"r":56,"w":174.2},{"m":12,"r":56,"w":175.4},{"m":13,"r":56,"w":177.1},{"m":14,"r":56,"w":178.2},{"m":15,"r":56,"w":179.3},{"m":16,"r":56,"w":180.5},{"m":17,"r":56,"w":181.6},{"m":18,"r":56,"w":182.8},{"m":19,"r":56,"w":183.9},{"m":20,"r":56,"w":185.0},{"m":21,"r":56,"w":186.2},
{"m":1,"r":66,"w":160.4},{"m":2,"r":66,"w":161.5},{"m":3,"r":66,"w":162.0},{"m":4,"r":66,"w":163.1},{"m":5,"r":66,"w":164.3},{"m":6,"r":66,"w":165.4},{"m":7,"r":66,"w":166.5},{"m":8,"r":66,"w":167.6},{"m":9,"r":66,"w":168.7},{"m":10,"r":66,"w":169.8},{"m":11,"r":66,"w":170.9},{"m":12,"r":66,"w":172.1},{"m":13,"r":66,"w":173.7},{"m":14,"r":66,"w":174.8},{"m":15,"r":66,"w":176.0},{"m":16,"r":66,"w":177.1},{"m":17,"r":66,"w":178.2},{"m":18,"r":66,"w":179.3},{"m":19,"r":66,"w":180.4},{"m":20,"r":66,"w":181.5},{"m":21,"r":66,"w":182.6},
{"m":1,"r":80,"w":155.2},{"m":2,"r":80,"w":156.3},{"m":3,"r":80,"w":156.8},{"m":4,"r":80,"w":157.9},{"m":5,"r":80,"w":159.0},{"m":6,"r":80,"w":160.1},{"m":7,"r":80,"w":161.1},{"m":8,"r":80,"w":162.2},{"m":9,"r":80,"w":163.3},{"m":10,"r":80,"w":164.4},{"m":11,"r":80,"w":165.5},{"m":12,"r":80,"w":166.5},{"m":13,"r":80,"w":168.2},{"m":14,"r":80,"w":169.2},{"m":15,"r":80,"w":170.3},{"m":16,"r":80,"w":171.4},{"m":17,"r":80,"w":172.5},{"m":18,"r":80,"w":173.6},{"m":19,"r":80,"w":174.6},{"m":20,"r":80,"w":175.7},{"m":21,"r":80,"w":176.8},
{"m":1,"r":100,"w":147.3},{"m":2,"r":100,"w":148.3},{"m":3,"r":100,"w":148.8},{"m":4,"r":100,"w":149.8},{"m":5,"r":100,"w":150.8},{"m":6,"r":100,"w":151.9},{"m":7,"r":100,"w":152.9},{"m":8,"r":100,"w":153.9},{"m":9,"r":100,"w":154.9},{"m":10,"r":100,"w":156.0},{"m":11,"r":100,"w":157.0},{"m":12,"r":100,"w":158.0},{"m":13,"r":100,"w":159.5},{"m":14,"r":100,"w":160.6},{"m":15,"r":100,"w":161.6},{"m":16,"r":100,"w":162.6},{"m":17,"r":100,"w":163.6},{"m":18,"r":100,"w":164.7},{"m":19,"r":100,"w":165.7},{"m":20,"r":100,"w":166.7},{"m":21,"r":100,"w":167.7},
{"m":1,"r":130,"w":136.5},{"m":2,"r":130,"w":137.5},{"m":3,"r":130,"w":137.9},{"m":4,"r":130,"w":138.9},{"m":5,"r":130,"w":139.8},{"m":6,"r":130,"w":140.8},{"m":7,"r":130,"w":141.7},{"m":8,"r":130,"w":142.7},{"m":9,"r":130,"w":143.6},{"m":10,"r":130,"w":144.6},{"m":11,"r":130,"w":145.5},{"m":12,"r":130,"w":146.5},{"m":13,"r":130,"w":147.9},{"m":14,"r":130,"w":148.8},{"m":15,"r":130,"w":149.8},{"m":16,"r":130,"w":150.7},{"m":17,"r":130,"w":151.7},{"m":18,"r":130,"w":152.6},{"m":19,"r":130,"w":153.6},{"m":20,"r":130,"w":154.5},{"m":21,"r":130,"w":155.5},
{"m":1,"r":170,"w":124.8},{"m":2,"r":170,"w":125.7},{"m":3,"r":170,"w":126.1},{"m":4,"r":170,"w":127.0},{"m":5,"r":170,"w":127.9},{"m":6,"r":170,"w":128.7},{"m":7,"r":170,"w":129.6},{"m":8,"r":170,"w":130.5},{"m":9,"r":170,"w":131.3},{"m":10,"r":170,"w":132.2},{"m":11,"r":170,"w":133.1},{"m":12,"r":170,"w":133.9},{"m":13,"r":170,"w":135.2},{"m":14,"r":170,"w":136.1},{"m":15,"r":170,"w":137.0},{"m":16,"r":170,"w":137.8},{"m":17,"r":170,"w":138.7},{"m":18,"r":170,"w":139.6},{"m":19,"r":170,"w":140.4},{"m":20,"r":170,"w":141.3},{"m":21,"r":170,"w":142.2},
{"m":1,"r":220,"w":113.1},{"m":2,"r":220,"w":113.9},{"m":3,"r":220,"w":114.3},{"m":4,"r":220,"w":115.1},{"m":5,"r":220,"w":115.9},{"m":6,"r":220,"w":116.7},{"m":7,"r":220,"w":117.5},{"m":8,"r":220,"w":118.3},{"m":9,"r":220,"w":119.0},{"m":10,"r":220,"w":119.8},{"m":11,"r":220,"w":120.6},{"m":12,"r":220,"w":121.4},{"m":13,"r":220,"w":122.6},{"m":14,"r":220,"w":123.4},{"m":15,"r":220,"w":124.1},{"m":16,"r":220,"w":124.9},{"m":17,"r":220,"w":125.7},{"m":18,"r":220,"w":126.5},{"m":19,"r":220,"w":127.3},{"m":20,"r":220,"w":128.1},{"m":21,"r":220,"w":128.9},
{"m":1,"r":300,"w":99.1},{"m":2,"r":300,"w":99.8},{"m":3,"r":300,"w":100.1},{"m":4,"r":300,"w":100.8},{"m":5,"r":300,"w":101.5},{"m":6,"r":300,"w":102.2},{"m":7,"r":300,"w":102.9},{"m":8,"r":300,"w":103.6},{"m":9,"r":300,"w":104.3},{"m":10,"r":300,"w":105.0},{"m":11,"r":300,"w":105.7},{"m":12,"r":300,"w":106.3},{"m":13,"r":300,"w":107.4},{"m":14,"r":300,"w":108.1},{"m":15,"r":300,"w":108.8},{"m":16,"r":300,"w":109.4},{"m":17,"r":300,"w":110.1},{"m":18,"r":300,"w":110.8},{"m":19,"r":300,"w":111.5},{"m":20,"r":300,"w":112.2},{"m":21,"r":300,"w":112.9}
],
"bt3": [
{"r":3,"w":0,"s":"BT wind speed profile"},{"r":5,"w":2,"s":"BT wind speed profile"},{"r":7,"w":12,"s":"BT wind speed profile"},{"r":9,"w":34,"s":"BT wind speed profile"},{"r":11,"w":56,"s":"BT wind speed profile"},{"r":14,"w":84,"s":"BT wind speed profile"},{"r":17,"w":108.5,"s":"BT wind speed profile"},{"r":20,"w":130,"s":"BT wind speed profile"},{"r":24,"w":149,"s":"BT wind speed profile"},{"r":30,"w":163.5,"s":"BT wind speed profile"},{"r":36,"w":171.5,"s":"BT wind speed profile"},{"r":42,"w":175,"s":"BT wind speed profile"},{"r":48,"w":176,"s":"BT wind speed profile"},{"r":56,"w":174.8,"s":"BT wind speed profile"},{"r":66,"w":171.5,"s":"BT wind speed profile"},{"r":80,"w":166,"s":"BT wind speed profile"},{"r":100,"w":157.5,"s":"BT wind speed profile"},{"r":130,"w":146,"s":"BT wind speed profile"},{"r":170,"w":133.5,"s":"BT wind speed profile"},{"r":220,"w":121,"s":"BT wind speed profile"},{"r":300,"w":106,"s":"BT wind speed profile"}
]
},
"vconcat": [
{
"width": 513, "height": 405,
"layer": [
{"data": {"name": "ens1"},
 "mark": {"type": "line", "color": "#0000FF", "strokeWidth": 1, "clip": true},
 "encoding": {
  "x": {"field": "t", "type": "temporal",
   "scale": {"domain": [{"year": 2008, "month": 8, "date": 28, "hours": 6}, {"year": 2008, "month": 9, "date": 1, "hours": 12}], "nice": false},
   "axis": {"orient": "bottom", "values": [{"year": 2008, "month": 8, "date": 29}, {"year": 2008, "month": 8, "date": 30}, {"year": 2008, "month": 8, "date": 31}, {"year": 2008, "month": 9, "date": 1}], "format": "%-m/%d", "title": "Date (2008)", "labelPadding": 14, "titleY": 38.5, "titleX": 246.5, "titleBaseline": "middle"}},
  "y": {"field": "v", "type": "quantitative",
   "scale": {"domain": [0, 300], "nice": false, "zero": false},
   "axis": {"orient": "left", "values": [0, 50, 100, 150, 200, 250, 300], "title": "Perturbation of maximum wind speed (km/h)", "labelPadding": 16.5, "titleX": -50.5, "titleY": 231.8, "titleBaseline": "middle"}},
  "detail": {"field": "m", "type": "nominal"}
 }},
{"data": {"name": "bt1"},
 "mark": {"type": "line", "strokeWidth": 3, "clip": true},
 "encoding": {
  "x": {"field": "t", "type": "temporal",
   "scale": {"domain": [{"year": 2008, "month": 8, "date": 28, "hours": 6}, {"year": 2008, "month": 9, "date": 1, "hours": 12}], "nice": false},
   "axis": {"orient": "top", "labels": false, "title": null, "values": [{"year": 2008, "month": 8, "date": 29}, {"year": 2008, "month": 8, "date": 30}, {"year": 2008, "month": 8, "date": 31}, {"year": 2008, "month": 9, "date": 1}]}},
  "y": {"field": "v", "type": "quantitative",
   "scale": {"domain": [0, 300], "nice": false, "zero": false},
   "axis": {"orient": "right", "values": [0, 36, 72, 108, 144, 180, 216, 252, 288], "labelExpr": "format(datum.value/3.6, 'd')", "title": "m/s", "titleAngle": 270, "titleX": 37, "titleY": 204.5, "titleBaseline": "middle", "labelColor": "#0072BD", "titleColor": "#0072BD", "tickColor": "#0072BD", "domain": true, "domainColor": "#4C9AD2", "labelPadding": 12}},
  "color": {"field": "s", "type": "nominal",
   "scale": {"domain": ["BT maximum wind speed", "Gustav's landfall"], "range": ["#FF0000", "#000000"]},
   "legend": {"title": null, "orient": "none", "legendX": 259.5, "legendY": 16.5, "symbolType": "stroke", "symbolSize": 2025, "symbolStrokeWidth": 3, "labelFontSize": 14, "labelColor": "#000000", "labelLimit": 400, "clipHeight": 19, "padding": 0, "rowPadding": 0, "labelOffset": 4,
    "encode": {"symbols": {"update": {
      "shape": {"signal": "indexof(datum.value,'Gustav')>=0 ? 'M0.15,0A0.15,0.15,0,1,1,-0.15,0A0.15,0.15,0,1,1,0.15,0Z' : 'stroke'"},
      "fill": {"signal": "indexof(datum.value,'Gustav')>=0 ? '#000000' : 'transparent'"},
      "stroke": {"signal": "indexof(datum.value,'Gustav')>=0 ? 'transparent' : '#FF0000'"},
      "strokeWidth": {"value": 3}}}}}}
 }},
{"data": {"name": "lf"},
 "mark": {"type": "point", "filled": true, "size": 40, "opacity": 1},
 "encoding": {
  "x": {"field": "t", "type": "temporal", "scale": {"domain": [{"year": 2008, "month": 8, "date": 28, "hours": 6}, {"year": 2008, "month": 9, "date": 1, "hours": 12}], "nice": false}, "axis": null},
  "y": {"field": "v", "type": "quantitative", "scale": {"domain": [0, 300], "nice": false, "zero": false}, "axis": null},
  "color": {"field": "s", "type": "nominal", "legend": null}
 }}
]
},
{
"width": 513, "height": 405,
"layer": [
{"data": {"name": "ens2"},
 "mark": {"type": "line", "color": "#0000FF", "strokeWidth": 1, "clip": true, "interpolate": "monotone"},
 "encoding": {
  "x": {"field": "r", "type": "quantitative", "scale": {"domain": [0, 300], "nice": false, "zero": false},
   "axis": {"orient": "bottom", "values": [0, 50, 100, 150, 200, 250, 300], "title": "Radius from the center (km)", "labelPadding": 14, "titleY": 39, "titleX": 239, "titleBaseline": "middle"}},
  "y": {"field": "p", "type": "quantitative", "scale": {"domain": [940, 1040], "nice": false, "zero": false},
   "axis": {"orient": "left", "values": [940, 950, 960, 970, 980, 990, 1000, 1010, 1020, 1030, 1040], "format": "d", "title": "Profile of pressure (mb)", "labelPadding": 17.5, "titleX": -60.5, "titleY": 216.8, "titleBaseline": "middle"}},
  "detail": {"field": "m", "type": "nominal"}
 }},
{"data": {"name": "bt2"},
 "mark": {"type": "line", "strokeWidth": 3, "clip": true, "interpolate": "monotone"},
 "encoding": {
  "x": {"field": "r", "type": "quantitative", "scale": {"domain": [0, 300], "nice": false, "zero": false},
   "axis": {"orient": "top", "labels": false, "title": null, "values": [0, 50, 100, 150, 200, 250, 300]}},
  "y": {"field": "p", "type": "quantitative", "scale": {"domain": [940, 1040], "nice": false, "zero": false},
   "axis": {"orient": "right", "labels": false, "title": null, "values": [940, 950, 960, 970, 980, 990, 1000, 1010, 1020, 1030, 1040]}},
  "color": {"field": "s", "type": "nominal", "scale": {"domain": ["BT central pressure profile"], "range": ["#FF0000"]},
   "legend": {"title": null, "orient": "none", "legendX": 19.7, "legendY": 17.5, "symbolType": "stroke", "symbolSize": 2025, "symbolStrokeWidth": 3, "labelFontSize": 14, "labelColor": "#000000", "labelLimit": 400, "clipHeight": 19, "padding": 0, "rowPadding": 0, "labelOffset": 4,
    "encode": {"symbols": {"update": {"stroke": {"value": "#FF0000"}, "fill": {"value": "transparent"}, "strokeWidth": {"value": 3}}}}}}
 }}
]
},
{
"width": 513, "height": 405,
"layer": [
{"data": {"name": "ens3"},
 "mark": {"type": "line", "color": "#0000FF", "strokeWidth": 1, "clip": true, "interpolate": "monotone"},
 "encoding": {
  "x": {"field": "r", "type": "quantitative", "scale": {"domain": [0, 300], "nice": false, "zero": false},
   "axis": {"orient": "bottom", "values": [0, 50, 100, 150, 200, 250, 300], "title": "Radius from the center (km)", "labelPadding": 14, "titleY": 39, "titleX": 241, "titleBaseline": "middle"}},
  "y": {"field": "w", "type": "quantitative", "scale": {"domain": [0, 200], "nice": false, "zero": false},
   "axis": {"orient": "left", "values": [0, 20, 40, 60, 80, 100, 120, 140, 160, 180, 200], "title": "Profile of wind speed (km/h)", "labelPadding": 16, "titleX": -49, "titleY": 220.7, "titleBaseline": "middle"}},
  "detail": {"field": "m", "type": "nominal"}
 }},
{"data": {"name": "bt3"},
 "mark": {"type": "line", "strokeWidth": 3, "clip": true, "interpolate": "monotone"},
 "encoding": {
  "x": {"field": "r", "type": "quantitative", "scale": {"domain": [0, 300], "nice": false, "zero": false},
   "axis": {"orient": "top", "labels": false, "title": null, "values": [0, 50, 100, 150, 200, 250, 300]}},
  "y": {"field": "w", "type": "quantitative", "scale": {"domain": [0, 200], "nice": false, "zero": false},
   "axis": {"orient": "right", "values": [0, 36, 72, 108, 144, 180], "labelExpr": "format(datum.value/3.6, 'd')", "title": "m/s", "titleAngle": 270, "titleX": 37, "titleY": 205, "titleBaseline": "middle", "labelColor": "#0072BD", "titleColor": "#0072BD", "tickColor": "#0072BD", "domain": true, "domainColor": "#0072BD", "labelPadding": 12}},
  "color": {"field": "s", "type": "nominal", "scale": {"domain": ["BT wind speed profile"], "range": ["#FF0000"]},
   "legend": {"title": null, "orient": "none", "legendX": 288, "legendY": 17.8, "symbolType": "stroke", "symbolSize": 2025, "symbolStrokeWidth": 3, "labelFontSize": 14, "labelColor": "#000000", "labelLimit": 400, "clipHeight": 19, "padding": 0, "rowPadding": 0, "labelOffset": 4,
    "encode": {"symbols": {"update": {"stroke": {"value": "#FF0000"}, "fill": {"value": "transparent"}, "strokeWidth": {"value": 3}}}}}}
 }}
]
}
],
"config": {
 "font": "Liberation Sans",
 "view": {"stroke": "#262626", "strokeWidth": 1},
 "axis": {"grid": false, "domain": false, "labelFont": "Liberation Sans", "titleFont": "Liberation Sans", "labelFontSize": 15, "titleFontSize": 17, "titleFontWeight": "normal", "labelColor": "#262626", "titleColor": "#262626", "tickColor": "#262626", "domainColor": "#262626", "tickSize": -6, "tickWidth": 1, "labelFlush": false, "labelOverlap": false},
 "legend": {"labelFont": "Liberation Sans"}
}
}
